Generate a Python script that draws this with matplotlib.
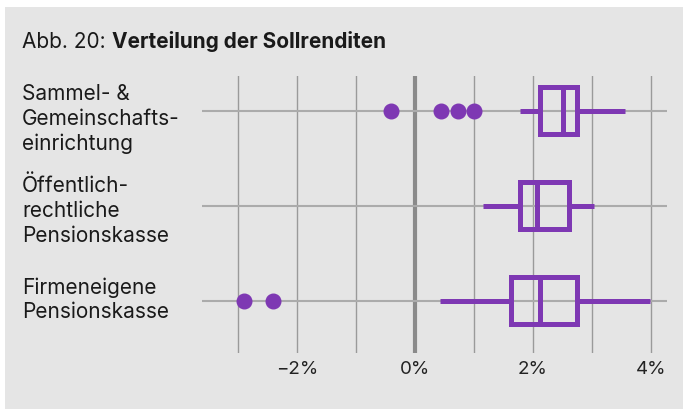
import matplotlib.pyplot as plt
from matplotlib.patches import Rectangle
from matplotlib.transforms import blended_transform_factory

plt.rcParams['font.family'] = ['Inter', 'DejaVu Sans']

# data (values in %)
categories = ['Sammel- &\nGemeinschafts-\neinrichtung',
              'Öffentlich-\nrechtliche\nPensionskasse',
              'Firmeneigene\nPensionskasse']
whisker_lo = [1.78, 1.15, 0.42]
q1 = [2.12, 1.78, 1.63]
median = [2.50, 2.07, 2.12]
q3 = [2.74, 2.61, 2.75]
whisker_hi = [3.56, 3.04, 3.98]
outliers = [[-0.41, 0.44, 0.72, 1.00], [], [-2.90, -2.41]]
tick_vals = [-2, 0, 2, 4]
tick_labels = ['\u22122%', '0%', '2%', '4%']
grid_vals = [-3, -2, -1, 0, 1, 2, 3, 4]

purple = '#7e38b3'
bg = '#e5e5e5'

W, H = 683, 410
fig = plt.figure(figsize=(W / 100, H / 100), dpi=100)
fig.patch.set_facecolor('white')
fig.patches.append(Rectangle((5 / W, 0), 1, 1 - 8 / H, transform=fig.transFigure,
                             facecolor=bg, edgecolor='none', zorder=-10))

ax = fig.add_axes([202 / W, 1 - 354 / H, (667 - 202) / W, (354 - 77) / H])
ax.set_facecolor('none')
ax.set_xlim(-3.61, 4.27)
ax.set_ylim(2.55, -0.365)
for s in ax.spines.values():
    s.set_visible(False)

for g in grid_vals:
    if g == 0:
        ax.axvline(g, color='#8a8a8a', lw=3, zorder=1)
    else:
        ax.axvline(g, color='#9a9a9a', lw=1, zorder=1)
for i in range(len(categories)):
    ax.axhline(i, color='#ababab', lw=1.5, zorder=1)

stats = []
for i in range(len(categories)):
    stats.append(dict(whislo=whisker_lo[i], q1=q1[i], med=median[i], q3=q3[i],
                      whishi=whisker_hi[i], fliers=outliers[i]))
ax.bxp(stats, positions=range(len(categories)), widths=0.5, orientation='horizontal',
       showcaps=False, patch_artist=True,
       boxprops=dict(facecolor='none', edgecolor=purple, linewidth=3.6),
       medianprops=dict(color=purple, linewidth=3.6, solid_capstyle='butt'),
       whiskerprops=dict(color=purple, linewidth=3.6, solid_capstyle='butt'),
       flierprops=dict(marker='o', markerfacecolor=purple, markeredgecolor=purple,
                       markersize=10.5, linestyle='none'),
       zorder=3)

ax.set_xticks(tick_vals)
ax.set_xticklabels(tick_labels, fontsize=13.5, color='#222222')
ax.tick_params(axis='x', length=0, pad=5)
ax.set_yticks([])

trans = blended_transform_factory(fig.transFigure, ax.transData)
label_offsets = [0.08, 0.04, -0.02]
for i, lab in enumerate(categories):
    ax.text(22 / W, i + label_offsets[i], lab, transform=trans, ha='left', va='center',
            fontsize=15, color='#1a1a1a', linespacing=1.3)

t1 = fig.text(22 / W, 1 - 42 / H, 'Abb. 20: ', fontsize=15, color='#1a1a1a',
              va='center', ha='left')
fig.canvas.draw()
bb = t1.get_window_extent()
fig.text(bb.x1 / W, 1 - 42 / H, 'Verteilung der Sollrenditen', fontsize=15,
         fontweight='bold', color='#1a1a1a', va='center', ha='left')

fig.savefig('out.png', dpi=100)
